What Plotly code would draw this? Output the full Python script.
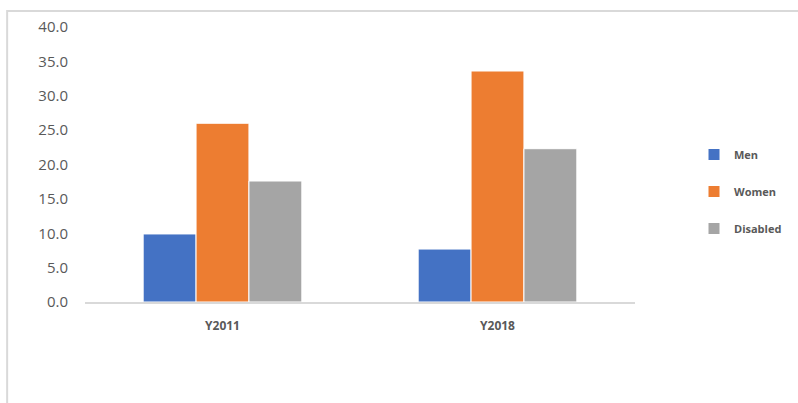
import plotly.graph_objects as go

categories = ["Y2011", "Y2018"]
men = [9.9, 7.7]
women = [26.0, 33.6]
disabled = [17.6, 22.3]
series_names = ["Men", "Women", "Disabled"]
colors = ["#4472C4", "#ED7D31", "#A5A5A5"]
y_ticks = [0, 5, 10, 15, 20, 25, 30, 35, 40]

W, H = 798, 403
L, R, T, B = 85, 162, 27, 101
pw, ph = W - L - R, H - T - B

fig = go.Figure()
for i, (name, vals) in enumerate(zip(series_names, [men, women, disabled])):
    fig.add_trace(go.Bar(
        x=categories, y=vals, name=name,
        marker=dict(color=colors[i], line=dict(color="white", width=1)),
        legendgroup=name,
    ))

# outer chart border (partially visible in the reference)
bx = (7 - L) / pw
by = (H - B - 11) / ph
fig.add_shape(type="rect", xref="paper", yref="paper",
              x0=bx, x1=2, y0=-2, y1=by,
              line=dict(color="#D9D9D9", width=2), layer="below")

fig.update_layout(
    width=W, height=H,
    margin=dict(l=L, r=R, t=T, b=B, pad=0),
    paper_bgcolor="white", plot_bgcolor="white",
    barmode="group", bargap=0.423, bargroupgap=0,
    font=dict(family="Open Sans", color="#595959"),
    showlegend=True,
    legend=dict(x=(694 - L) / pw, y=(H - B - 140) / ph, xanchor="left", yanchor="top",
                traceorder="grouped", tracegroupgap=18,
                font=dict(size=11, color="#595959", family="Open Sans", weight="bold"),
                itemwidth=30, bgcolor="rgba(0,0,0,0)"),
)
fig.update_yaxes(range=[0, 40], tickvals=y_ticks, tickformat=".1f",
                 showgrid=False, zeroline=False, showline=False,
                 tickfont=dict(size=15, color="#595959"), ticklabelstandoff=16)
fig.update_xaxes(showline=True, linecolor="#D9D9D9", linewidth=2,
                 showgrid=False, ticks="",
                 tickfont=dict(size=12, color="#595959", family="Open Sans", weight="bold"),
                 ticklabelstandoff=12)

fig.write_html("out.html")
